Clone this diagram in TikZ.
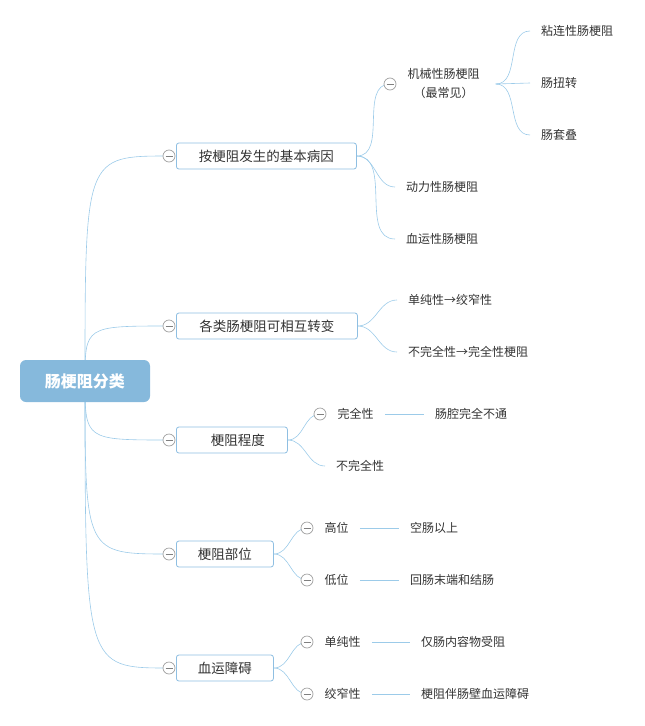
\documentclass[tikz,border=0pt]{standalone}
\usepackage{fontspec}
\newfontfamily\cjk{Noto Sans CJK SC}
\usetikzlibrary{backgrounds}

\definecolor{linkblue}{HTML}{9CCBE9}
\definecolor{boxblue}{HTML}{8FBFE2}
\definecolor{rootblue}{HTML}{86B9DC}
\definecolor{foldgray}{HTML}{A0A0A0}
\definecolor{textgray}{HTML}{333333}

\tikzset{
  rootbox/.style={fill=rootblue, rounded corners=6pt, minimum width=130pt,
    minimum height=42pt, inner sep=0pt, text=white,
    font=\cjk\bfseries\fontsize{16}{18}\selectfont},
  topicbox/.style={draw=boxblue, fill=white, rounded corners=2.5pt,
    line width=0.8pt, minimum height=26pt, inner sep=0pt, anchor=west,
    text=textgray, font=\cjk\fontsize{13.5}{16}\selectfont},
  item/.style={anchor=west, inner xsep=11pt, inner ysep=2pt, align=center,
    text=textgray, font=\cjk\fontsize{12}{19}\selectfont},
  fold/.style={circle, draw=foldgray, fill=white, minimum size=12pt,
    inner sep=0pt, line width=0.7pt,
    path picture={\draw[foldgray!80!black, line width=0.7pt]
      ([xshift=2.5pt]path picture bounding box.west) --
      ([xshift=-2.5pt]path picture bounding box.east);}},
  link/.style={draw=linkblue, line width=0.6pt},
}

\begin{document}
\begin{tikzpicture}[x=1pt, y=-1pt]
\useasboundingbox (0,0) rectangle (645,726);

% root
\node[rootbox] (root) at (85,381) {肠梗阻分类};

% main topics
\node[fold] (f1) at (169,156) {};
\node[topicbox, minimum width=180pt] (b1) at (176,156) {按梗阻发生的基本病因};
\node[fold] (f2) at (169,326) {};
\node[topicbox, minimum width=181pt] (b2) at (176,326) {各类肠梗阻可相互转变};
\node[fold] (f3) at (169,440) {};
\node[topicbox, minimum width=111pt] (b3) at (176,440) {\hspace{12pt}梗阻程度};
\node[fold] (f4) at (169,554) {};
\node[topicbox, minimum width=97pt] (b4) at (176,554) {梗阻部位};
\node[fold] (f5) at (169,668) {};
\node[topicbox, minimum width=97pt] (b5) at (176,668) {血运障碍};

% causes
\node[fold] (f11) at (390,84) {};
\node[item] (mech) at (f11.east) {机械性肠梗阻\\（最常见）};
\coordinate (fork) at ([xshift=5pt]mech.east);
\node[item] (adh) at (530,31) {粘连性肠梗阻};
\node[item] (volv) at (530,83) {肠扭转};
\node[item] (intus) at (530,135) {肠套叠};
\node[item] (dyn) at (395,187) {动力性肠梗阻};
\node[item] (vasc) at (395,239) {血运性肠梗阻};

% conversion
\node[item] (simp) at (397,300) {单纯性→绞窄性};
\node[item] (incomp) at (397,352) {不完全性→完全性梗阻};

% degree
\node[fold] (f31) at (320,414) {};
\node[item] (comp) at (f31.east) {完全性};
\node[item] (compd) at (424,414) {肠腔完全不通};
\node[item] (part) at (325,466) {不完全性};

% site
\node[fold] (f41) at (307,528) {};
\node[item] (high) at (f41.east) {高位};
\node[item] (highd) at (399,528) {空肠以上};
\node[fold] (f42) at (307,580) {};
\node[item] (low) at (f42.east) {低位};
\node[item] (lowd) at (399,580) {回肠末端和结肠};

% blood supply
\node[fold] (f51) at (307,642) {};
\node[item] (pure) at (f51.east) {单纯性};
\node[item] (pured) at (410,642) {仅肠内容物受阻};
\node[fold] (f52) at (307,694) {};
\node[item] (strang) at (f52.east) {绞窄性};
\node[item] (strangd) at (410,694) {梗阻伴肠壁血运障碍};

\begin{scope}[on background layer]
% root links
\draw[link] (root.center) .. controls (root.center |- f1.center) .. (f1.center);
\draw[link] (root.center) .. controls (root.center |- f2.center) .. (f2.center);
\draw[link] (root.center) .. controls (root.center |- f3.center) .. (f3.center);
\draw[link] (root.center) .. controls (root.center |- f4.center) .. (f4.center);
\draw[link] (root.center) .. controls (root.center |- f5.center) .. (f5.center);

% topic links
\draw[link] (b1.east) to[out=0, in=180] (f11.center);
\draw[link] (b1.east) to[out=0, in=180] (dyn.west);
\draw[link] (b1.east) to[out=0, in=180] (vasc.west);
\draw[link] (fork) to[out=0, in=180] (adh.west);
\draw[link] (fork) -- (volv.west);
\draw[link] (fork) to[out=0, in=180] (intus.west);

\draw[link] (b2.east) to[out=0, in=180] (simp.west);
\draw[link] (b2.east) to[out=0, in=180] (incomp.west);

\draw[link] (b3.east) to[out=0, in=180] (f31.center);
\draw[link] (b3.east) to[out=0, in=180] (part.west);
\draw[link] (comp.east) -- (compd.west);

\draw[link] (b4.east) to[out=0, in=180] (f41.center);
\draw[link] (b4.east) to[out=0, in=180] (f42.center);
\draw[link] (high.east) -- (highd.west);
\draw[link] (low.east) -- (lowd.west);

\draw[link] (b5.east) to[out=0, in=180] (f51.center);
\draw[link] (b5.east) to[out=0, in=180] (f52.center);
\draw[link] (pure.east) -- (pured.west);
\draw[link] (strang.east) -- (strangd.west);
\end{scope}
\end{tikzpicture}
\end{document}
